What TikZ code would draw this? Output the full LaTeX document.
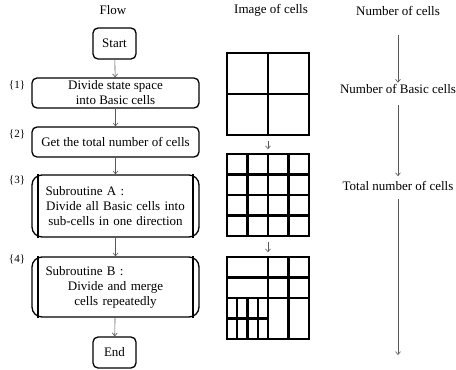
\documentclass[tikz,border=0pt]{standalone}
\usepackage{fontspec}
\setmainfont{Liberation Serif}
\usetikzlibrary{arrows.meta,calc}
\begin{document}
\begin{tikzpicture}[x=1pt,y=-1pt,
  txt/.style={font=\fontsize{13}{15}\selectfont, inner sep=0pt},
  lbl/.style={font=\fontsize{11}{13}\selectfont, inner sep=0pt},
  term/.style={draw, line width=1.3pt, rounded corners=5pt, minimum width=43pt, minimum height=31pt, inner sep=0pt, font=\fontsize{13}{15}\selectfont},
  proc/.style={draw, line width=1.3pt, rounded corners=5pt, minimum width=167pt, minimum height=30pt, inner sep=0pt, align=center, font=\fontsize{13}{15}\selectfont},
  subr/.style={draw, line width=1.3pt, rounded corners=10pt, minimum width=167pt, text width=140pt, inner sep=0pt, align=center, font=\fontsize{13}{15}\selectfont},
  subrbar/.style={line width=2pt},
  arr/.style={draw=black!65, line width=0.6pt, -{Straight Barb[length=3pt,width=5pt]}},
  cellgrid/.style={draw, line width=1.5pt, minimum width=82pt, minimum height=82pt, inner sep=0pt},
  cellline/.style={line width=2.4pt}
]
\useasboundingbox (0,0) rectangle (456,370);

% titles
\node[txt] (tflow) at (113,10) {Flow};
\node[txt] (timg) at (271,10) {Image of cells};
\node[txt] (tnum) at (398,11) {Number of cells};

% flow
\node[term] (start) at (114.5,43.5) {Start};
\node[proc, minimum height=30pt] (b1) at (115.5,93) {Divide state space\\into Basic cells};
\node[proc] (b2) at (115.5,142) {Get the total number of cells};
\node[subr, minimum height=62pt] (b3) at (115.5,206) {\makebox[\linewidth][l]{Subroutine A :}\\Divide all Basic cells into\\sub-cells in one direction};
\node[subr, minimum height=60pt] (b4) at (115.5,287) {\makebox[\linewidth][l]{Subroutine B :}\\Divide and merge\\cells repeatedly};
\node[term] (end) at (114.5,352.5) {End};

\draw[subrbar] ($(b3.north west)+(7,0)$) -- ($(b3.south west)+(7,0)$);
\draw[subrbar] ($(b3.north east)+(-7,0)$) -- ($(b3.south east)+(-7,0)$);
\draw[subrbar] ($(b4.north west)+(7,0)$) -- ($(b4.south west)+(7,0)$);
\draw[subrbar] ($(b4.north east)+(-7,0)$) -- ($(b4.south east)+(-7,0)$);

\node[lbl] (l1) at (17,85) {\{1\}};
\node[lbl] (l2) at (17,134) {\{2\}};
\node[lbl] (l3) at (17,180) {\{3\}};
\node[lbl] (l4) at (17,259) {\{4\}};

\draw[arr] (start) -- (b1);
\draw[arr] (b1) -- (b2);
\draw[arr] (b2) -- (b3);
\draw[arr] (b3) -- (b4);
\draw[arr] (b4) -- (end);

% image of cells
\node[cellgrid] (g1) at (268,94) {};
\draw[cellline] (g1.north) -- (g1.south);
\draw[cellline] (g1.west) -- (g1.east);

\node[cellgrid] (g2) at (268,195) {};
\foreach \xx in {247.5,268,288.5} \draw[cellline] (\xx,154) -- (\xx,236);
\foreach \yy in {174.5,195,215.5} \draw[cellline] (227,\yy) -- (309,\yy);

\node[cellgrid] (g3) at (268,298) {};
\draw[cellline] (268,257) -- (268,339);
\draw[cellline] (288.5,257) -- (288.5,339);
\draw[cellline] (227,277.5) -- (309,277.5);
\draw[cellline] (227,298) -- (309,298);
\foreach \xx in {237.25,247.5,257.75} \draw[cellline] (\xx,298) -- (\xx,339);
\draw[cellline] (227,318.5) -- (268,318.5);

\draw[arr, shorten <=5pt, shorten >=4pt] (g1) -- (g2);
\draw[arr, shorten <=5pt, shorten >=4pt] (g2) -- (g3);

% number of cells
\node[txt] (nb) at (398,88.5) {Number of Basic cells};
\node[txt] (tn) at (398,186) {Total number of cells};
\coordinate (nend) at (398,355);
\draw[arr, shorten <=19pt, shorten >=1pt] (tnum) -- (nb);
\draw[arr, shorten <=12pt, shorten >=5pt] (nb) -- (tn);
\draw[arr, shorten <=8pt] (tn) -- (nend);
\end{tikzpicture}
\end{document}
